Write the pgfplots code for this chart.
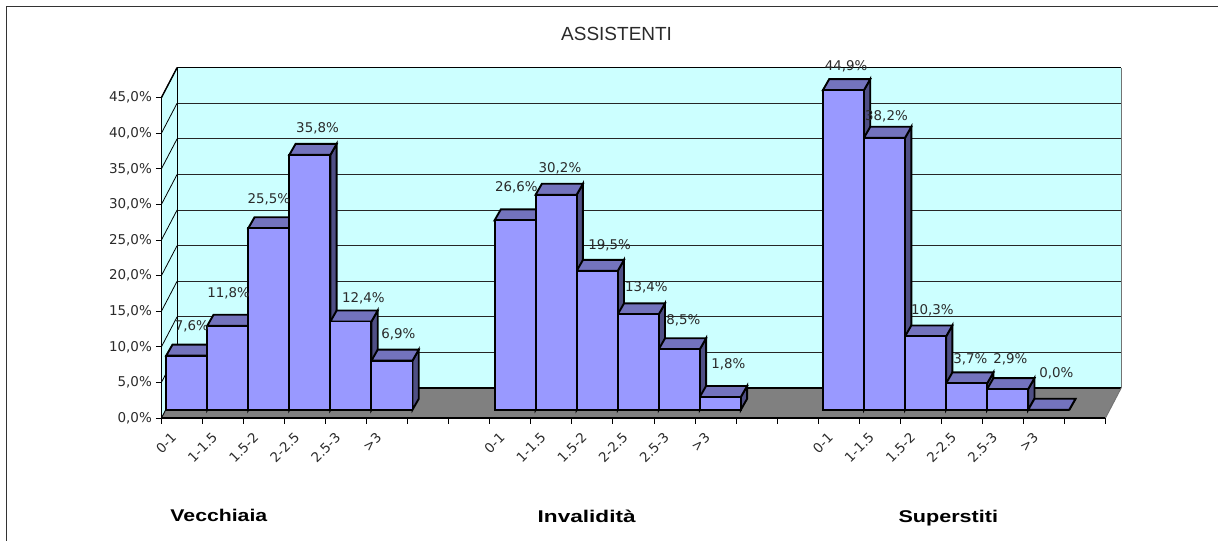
\documentclass[border=0pt]{standalone}
\usepackage{pgfplots}
\usepackage{pgfplotstable}
\usepackage{fontspec}
\pgfplotsset{compat=1.18}
\setmainfont{DejaVu Sans}
\newfontfamily\arialfont{Liberation Sans}
\definecolor{wall}{HTML}{CCFFFF}
\definecolor{barfront}{HTML}{9999FF}
\definecolor{bartop}{HTML}{7373BD}
\definecolor{barside}{HTML}{4F4F85}
\definecolor{floorgrey}{HTML}{808080}
\definecolor{txt}{HTML}{2A2A2A}
\newcommand\depthbar[2]{%
  \pgfmathsetmacro\xl{#1+0.117}\pgfmathsetmacro\xr{#1+1.117}%
  \pgfmathsetmacro\xll{#1+0.27}\pgfmathsetmacro\xrr{#1+1.27}%
  \pgfmathsetmacro\yt{#2+1.165}\pgfmathsetmacro\ytt{#2+2.709}%
  \addplot[fill=barside,draw=black,line width=1.9pt] coordinates {(\xr,1.165)(\xrr,2.709)(\xrr,\ytt)(\xr,\yt)} -- cycle;
  \addplot[fill=bartop,draw=black,line width=1.9pt] coordinates {(\xl,\yt)(\xr,\yt)(\xrr,\ytt)(\xll,\ytt)} -- cycle;
}
\begin{document}
\begin{tikzpicture}[line join=miter]
\begin{axis}[
  scale only axis, width=944.6pt, height=320.6pt,
  xmin=0, xmax=23, ymin=0, ymax=45,
  clip=false, axis on top,
  axis lines*=left, axis line style={-,black,line width=1.6pt},
  xtick={0,...,23}, xticklabels={},
  ytick={0,5,...,45},
  yticklabels={{0,0\%},{5,0\%},{10,0\%},{15,0\%},{20,0\%},{25,0\%},{30,0\%},{35,0\%},{40,0\%},{45,0\%}},
  tick align=outside, major tick length=5.5pt,
  tick style={black,line width=0.9pt},
  y tick label style={font=\fontsize{13.5}{15}\selectfont,text=txt,xshift=-0.5pt},
  extra x ticks={0,1,2,3,4,5,8,9,10,11,12,13,16,17,18,19,20,21},
  extra x tick labels={0-1,1-1.5,1.5-2,2-2.5,2.5-3,>3,0-1,1-1.5,1.5-2,2-2.5,2.5-3,>3,0-1,1-1.5,1.5-2,2-2.5,2.5-3,>3},
  extra x tick style={major tick length=0pt,
    x tick label style={rotate=45,anchor=north east,font=\fontsize{13.4}{15}\selectfont,text=txt,yshift=-12.5pt}},
]
% page and frame
\path (axis cs:-3.932,-17.224) rectangle (axis cs:25.749,58.717);
\draw[line width=1.4pt,draw=black!80] (axis cs:-3.774,-17.224) -- (axis cs:-3.774,57.8) -- (axis cs:25.749,57.8);
% walls
\addplot[fill=wall,draw=none] coordinates {(0.382,4.21)(23.382,4.21)(23.382,49.21)(0.382,49.21)} -- cycle;
\addplot[fill=wall,draw=none] coordinates {(0,0)(0.382,4.21)(0.382,49.21)(0,45)} -- cycle;
% grid
\pgfplotsinvokeforeach{9.21,14.21,19.21,24.21,29.21,34.21,39.21,44.21}{
  \addplot[black!85,line width=0.9pt] coordinates {(0.382,#1)(23.382,#1)};
}
\pgfplotsinvokeforeach{5,10,15,20,25,30,35,40,45}{
  \addplot[black,line width=0.8pt] coordinates {(0,#1)(0.382,#1+4.21)};
}
\addplot[black,line width=1.6pt] coordinates {(0.382,49.21)(23.382,49.21)};
\addplot[black,line width=1.4pt] coordinates {(0,45)(0.382,49.21)};
\addplot[black,line width=0.9pt] coordinates {(0.382,4.21)(0.382,49.21)};
\addplot[black!55,line width=1.2pt] coordinates {(23.382,4.21)(23.382,49.21)};
% floor
\addplot[fill=floorgrey,draw=none] coordinates {(0,0)(23,0)(23.382,4.21)(0.382,4.21)} -- cycle;
\addplot[black,line width=1.6pt] coordinates {(0.382,4.21)(23.382,4.21)};
\addplot[black,line width=0.9pt] coordinates {(0,0)(0.382,4.21)};
\addplot[black!55,line width=0.9pt] coordinates {(23,0)(23.382,4.21)};
% depth faces of the bars
\depthbar{0}{7.6}\depthbar{1}{11.8}\depthbar{2}{25.5}\depthbar{3}{35.8}\depthbar{4}{12.4}\depthbar{5}{6.9}
\depthbar{8}{26.6}\depthbar{9}{30.2}\depthbar{10}{19.5}\depthbar{11}{13.4}\depthbar{12}{8.5}\depthbar{13}{1.8}
\depthbar{16}{44.9}\depthbar{17}{38.2}\depthbar{18}{10.3}\depthbar{19}{3.7}\depthbar{20}{2.9}\depthbar{21}{0.0}
% front faces
\addplot[ybar,bar width=41.07pt,bar shift=0pt,fill=barfront,draw=black,line width=1.9pt,shift={(4.8pt,8.3pt)}]
  coordinates {(0.5,7.6)(1.5,11.8)(2.5,25.5)(3.5,35.8)(4.5,12.4)(5.5,6.9)};
\addplot[ybar,bar width=41.07pt,bar shift=0pt,fill=barfront,draw=black,line width=1.9pt,shift={(4.8pt,8.3pt)}]
  coordinates {(8.5,26.6)(9.5,30.2)(10.5,19.5)(11.5,13.4)(12.5,8.5)(13.5,1.8)};
\addplot[ybar,bar width=41.07pt,bar shift=0pt,fill=barfront,draw=black,line width=1.9pt,shift={(4.8pt,8.3pt)}]
  coordinates {(16.5,44.9)(17.5,38.2)(18.5,10.3)(19.5,3.7)(20.5,2.9)(21.5,0.0)};
% data labels: position in picture pixels
\addplot[draw=none,mark=none,point meta=explicit symbolic,
  nodes near coords={\pgfplotspointmeta\%},
  nodes near coords style={anchor=center,inner sep=0pt,text=txt,font=\fontsize{13.4}{15}\selectfont},
] table[x expr=(\thisrow{px}-161.5)/41.07,y expr=(418.3-\thisrow{py})/7.124,meta=lab] {
px py lab
192 326.7 7,6
228.8 293.3 11,8
269 199.3 25,5
317.7 128.3 35,8
363.5 298.3 12,4
398.7 334.3 6,9
516.7 187.7 26,6
560.3 168.3 30,2
610 245.7 19,5
646.7 287.7 13,4
683.7 320.7 8,5
728.7 365 1,8
846.7 66 44,9
887 116 38,2
933 310 10,3
971 359 3,7
1011 359 2,9
1057 373.7 0,0
};
% titles
\node[text=txt,font=\arialfont\fontsize{19}{21}\selectfont] at (axis cs:11.09,53.9) {ASSISTENTI};
\node[inner sep=0pt] at (axis cs:1.4,-13.67) {\scalebox{1.25}[1]{\arialfont\bfseries\fontsize{17}{19}\selectfont Vecchiaia}};
\node[inner sep=0pt] at (axis cs:10.36,-13.8) {\scalebox{1.33}[1]{\arialfont\bfseries\fontsize{17}{19}\selectfont Invalidità}};
\node[inner sep=0pt] at (axis cs:19.17,-14.03) {\scalebox{1.27}[1]{\arialfont\bfseries\fontsize{17}{19}\selectfont Superstiti}};
\end{axis}
\end{tikzpicture}
\end{document}
